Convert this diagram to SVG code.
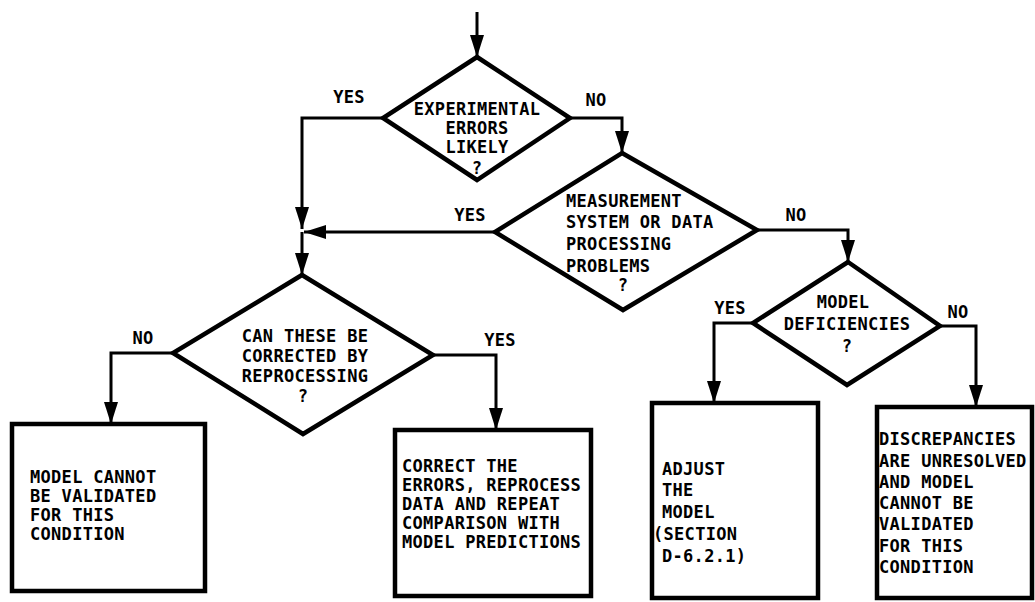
<svg xmlns="http://www.w3.org/2000/svg" width="1035" height="602" viewBox="0 0 1035 602">
<defs>
<marker id="arrh" markerUnits="userSpaceOnUse" markerWidth="22" markerHeight="14" viewBox="0 0 22 14" refX="22" refY="7" orient="auto">
<path d="M0,0 L22,7 L0,14 Z" fill="#000"/>
</marker>
</defs>
<style>
.bg{fill:#fff}
.dia{fill:#fff;stroke:#000;stroke-width:4.5;stroke-linejoin:miter}
.box{fill:#fff;stroke:#000;stroke-width:4.5}
.con{fill:none;stroke:#000;stroke-width:3;marker-end:url(#arrh)}
.t{font-family:"DejaVu Sans Mono","Liberation Mono",monospace;font-weight:bold;font-size:17px;letter-spacing:0.3px;fill:#000}
.m{text-anchor:middle}
</style>
<rect class="bg" x="0" y="0" width="1035" height="602"/>

<g id="connectors">
<path class="con" d="M477,12 V57"/>
<path class="con" d="M570,118 H622 V153"/>
<path class="con" d="M383,118 H302 V229"/>
<path class="con" d="M495,232 H304"/>
<path class="con" d="M302,232 V275"/>
<path class="con" d="M173,353 H111 V424"/>
<path class="con" d="M433,355 H496 V430"/>
<path class="con" d="M757,230 H848 V262"/>
<path class="con" d="M753,323 H714 V403"/>
<path class="con" d="M940,326 H976 V407"/>
</g>

<g id="labels">
<text class="t m" x="349" y="103">YES</text>
<text class="t m" x="596" y="106">NO</text>
<text class="t m" x="470" y="221">YES</text>
<text class="t m" x="796" y="221">NO</text>
<text class="t m" x="143" y="344">NO</text>
<text class="t m" x="500" y="346">YES</text>
<text class="t m" x="730" y="314">YES</text>
<text class="t m" x="958" y="318">NO</text>
</g>

<g id="d1">
<polygon class="dia" points="477,57 570,118 477,180 383,118"/>
<text class="t m" x="477" y="115">EXPERIMENTAL</text>
<text class="t m" x="477" y="134">ERRORS</text>
<text class="t m" x="477" y="153">LIKELY</text>
<text class="t m" x="477" y="174">?</text>
</g>

<g id="d2">
<polygon class="dia" points="622,153 757,230 623,310 495,232"/>
<text class="t" x="566" y="207">MEASUREMENT</text>
<text class="t" x="566" y="228">SYSTEM OR DATA</text>
<text class="t" x="566" y="250">PROCESSING</text>
<text class="t" x="566" y="272">PROBLEMS</text>
<text class="t m" x="623" y="291">?</text>
</g>

<g id="d3">
<polygon class="dia" points="302,275 433,355 303,434 173,353"/>
<text class="t m" x="305" y="342">CAN THESE BE</text>
<text class="t m" x="305" y="362">CORRECTED BY</text>
<text class="t m" x="305" y="382">REPROCESSING</text>
<text class="t m" x="303" y="402">?</text>
</g>

<g id="d4">
<polygon class="dia" points="848,262 940,326 847,385 753,323"/>
<text class="t m" x="843" y="308">MODEL</text>
<text class="t m" x="847" y="330">DEFICIENCIES</text>
<text class="t m" x="847" y="352">?</text>
</g>

<g id="b1">
<rect class="box" x="12" y="424" width="193" height="167"/>
<text class="t" x="30" y="483">MODEL CANNOT</text>
<text class="t" x="30" y="502">BE VALIDATED</text>
<text class="t" x="30" y="521">FOR THIS</text>
<text class="t" x="30" y="540">CONDITION</text>
</g>

<g id="b2">
<rect class="box" x="395" y="430" width="196" height="166"/>
<text class="t" x="402" y="472">CORRECT THE</text>
<text class="t" x="402" y="491">ERRORS, REPROCESS</text>
<text class="t" x="402" y="510">DATA AND REPEAT</text>
<text class="t" x="402" y="529">COMPARISON WITH</text>
<text class="t" x="402" y="548">MODEL PREDICTIONS</text>
</g>

<g id="b3">
<rect class="box" x="652" y="403" width="166" height="195"/>
<text class="t" x="662" y="475">ADJUST</text>
<text class="t" x="662" y="496">THE</text>
<text class="t" x="662" y="518">MODEL</text>
<text class="t" x="653" y="540">(SECTION</text>
<text class="t" x="662" y="562">D-6.2.1)</text>
</g>

<g id="b4">
<rect class="box" x="877" y="407" width="155" height="191"/>
<text class="t" x="879" y="445">DISCREPANCIES</text>
<text class="t" x="879" y="467">ARE UNRESOLVED</text>
<text class="t" x="879" y="488">AND MODEL</text>
<text class="t" x="879" y="509">CANNOT BE</text>
<text class="t" x="879" y="530">VALIDATED</text>
<text class="t" x="879" y="552">FOR THIS</text>
<text class="t" x="879" y="573">CONDITION</text>
</g>
</svg>
